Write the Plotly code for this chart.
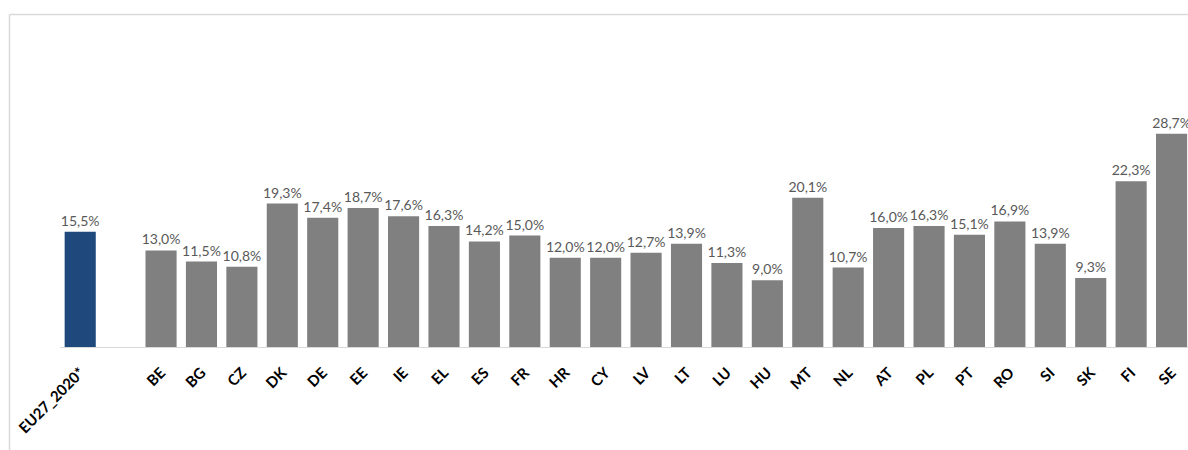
import plotly.graph_objects as go

categories = ["EU27_2020*", " ", "BE", "BG", "CZ", "DK", "DE", "EE", "IE", "EL", "ES", "FR",
              "HR", "CY", "LV", "LT", "LU", "HU", "MT", "NL", "AT", "PL", "PT", "RO",
              "SI", "SK", "FI", "SE"]
values = [15.5, None, 13.0, 11.5, 10.8, 19.3, 17.4, 18.7, 17.6, 16.3, 14.2, 15.0,
          12.0, 12.0, 12.7, 13.9, 11.3, 9.0, 20.1, 10.7, 16.0, 16.3, 15.1, 16.9,
          13.9, 9.3, 22.3, 28.7]

labels = ["" if v is None else f"{v:.1f}%".replace(".", ",") for v in values]
colors = ["#1F497D" if c.startswith("EU") else "#808080" for c in categories]

W, H = 1188, 450
ML, MR, MT, MB = 60, 0, 40, 103
plot_w = W - ML - MR
plot_h = H - MT - MB
px_per_cat = 40.42
px_per_unit = 7.43

fig = go.Figure(go.Bar(
    x=categories, y=values,
    marker=dict(color=colors, line=dict(width=0)),
    text=labels, textposition="outside", cliponaxis=False,
    constraintext="none",
    textfont=dict(family="Lato, Open Sans, sans-serif", size=14, color="#595959"),
    hoverinfo="skip",
))

fig.update_layout(
    width=W, height=H,
    margin=dict(l=ML, r=MR, t=MT, b=MB),
    paper_bgcolor="white", plot_bgcolor="white",
    bargap=0.23, showlegend=False,
    xaxis=dict(
        type="category",
        range=[-0.5, -0.5 + plot_w / px_per_cat],
        showline=True, linecolor="#d9d9d9", linewidth=1,
        showgrid=False, ticks="", tickangle=-45,
        ticklabelstandoff=10,
        tickfont=dict(family="Lato, Open Sans, sans-serif", size=15, color="#000000", weight="bold"),
        fixedrange=True,
    ),
    yaxis=dict(
        range=[0, plot_h / px_per_unit],
        visible=False, showgrid=False, zeroline=False, fixedrange=True,
    ),
    shapes=[
        dict(type="line", xref="paper", yref="paper",
             x0=(9.5 - ML) / plot_w, x1=(9.5 - ML) / plot_w,
             y0=-(MB + 10) / plot_h, y1=1 + (MT - 14.5) / plot_h,
             line=dict(color="#d9d9d9", width=1.5)),
        dict(type="line", xref="paper", yref="paper",
             x0=(9.5 - ML) / plot_w, x1=1.05,
             y0=1 + (MT - 14.5) / plot_h, y1=1 + (MT - 14.5) / plot_h,
             line=dict(color="#d9d9d9", width=1.5)),
    ],
)

fig.write_html("out.html", config={"displayModeBar": False},
               post_script="document.body.style.margin='0';document.body.style.overflow='hidden';")
